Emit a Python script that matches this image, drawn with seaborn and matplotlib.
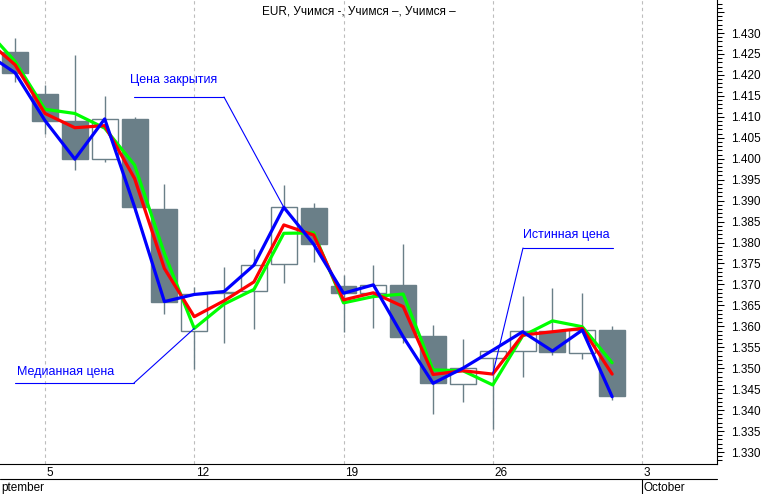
import numpy as np
import matplotlib
matplotlib.use("Agg")
import matplotlib.pyplot as plt
import matplotlib.transforms as mtransforms
from matplotlib.ticker import MultipleLocator, FuncFormatter, FixedLocator
import seaborn as sns

# ---------------- data ----------------
day_labels = ["4", "5", "8", "9", "10", "11", "12", "15", "16", "17", "18",
              "19", "22", "23", "24", "25", "26", "29", "30", "1", "2"]
opens = [1.4254, 1.4154, 1.4090, 1.3999, 1.4095, 1.3879, 1.3589, 1.3679, 1.3685, 1.3748, 1.3882,
         1.3696, 1.3679, 1.3699, 1.3577, 1.3462, 1.3524, 1.3542, 1.3589, 1.3537, 1.3591]
highs = [1.4287, 1.4176, 1.4247, 1.4150, 1.4099, 1.3940, 1.3694, 1.3741, 1.3784, 1.3937, 1.3895,
         1.3722, 1.3746, 1.3796, 1.3603, 1.3570, 1.3541, 1.3672, 1.3691, 1.3680, 1.3601]
lows = [1.4184, 1.4059, 1.3973, 1.3993, 1.3873, 1.3629, 1.3497, 1.3559, 1.3593, 1.3703, 1.3754,
        1.3587, 1.3595, 1.3559, 1.3390, 1.3420, 1.3356, 1.3480, 1.3531, 1.3521, 1.3424]
closes = [1.4205, 1.4091, 1.3999, 1.4095, 1.3885, 1.3659, 1.3676, 1.3683, 1.3746, 1.3884, 1.3796,
          1.3679, 1.3699, 1.3575, 1.3464, 1.3500, 1.3541, 1.3589, 1.3539, 1.3591, 1.3434]

# indicator lines (first value belongs to the previous session, Sept 3)
close_line = [1.4253, 1.4205, 1.4091, 1.3999, 1.4095, 1.3885, 1.3659, 1.3676, 1.3683, 1.3746, 1.3884,
              1.3796, 1.3679, 1.3699, 1.3575, 1.3464, 1.3500, 1.3543, 1.3587, 1.3541, 1.3591, 1.3432]
typical_line = [1.4286, 1.4224, 1.4108, 1.4074, 1.4079, 1.3953, 1.3738, 1.3623, 1.3661, 1.3706, 1.3842,
                1.3818, 1.3663, 1.3680, 1.3647, 1.3485, 1.3494, 1.3486, 1.3579, 1.3587, 1.3595, 1.3486]
median_line = [1.4311, 1.4232, 1.4118, 1.4108, 1.4073, 1.3985, 1.3774, 1.3595, 1.3653, 1.3688, 1.3822,
               1.3823, 1.3656, 1.3671, 1.3677, 1.3496, 1.3494, 1.3460, 1.3577, 1.3613, 1.3599, 1.3513]

axis_days = day_labels + ["3", "6", "7"]
week_labels = ["5", "12", "19", "26", "3"]
month_labels = ["ptember", "October"]
title = "EUR, Учимся -, Учимся –, Учимся –"
note_close = "Цена закрытия"
note_median = "Медианная цена"
note_true = "Истинная цена"
price_label_max = 1.430

# ---------------- style ----------------
sns.set_style("white")
plt.rcParams["font.family"] = ["Liberation Sans", "DejaVu Sans"]

W, H = 766, 494
AX_L, AX_R, AX_T, AX_B = 0, 717, 0, 464
fig = plt.figure(figsize=(W / 100, H / 100), dpi=100)
ax = fig.add_axes([AX_L / W, (H - AX_B) / H, (AX_R - AX_L) / W, (AX_B - AX_T) / H])

candle_col = "#6a7f88"
x = np.arange(len(day_labels))
o = np.array(opens); c = np.array(closes)
up = c >= o
bottom = np.minimum(o, c)
height = np.abs(c - o)

ax.vlines(x, lows, highs, color=candle_col, lw=1.0, zorder=2)
ax.bar(x, height, bottom=bottom, width=0.87,
       color=[("white" if u else candle_col) for u in up],
       edgecolor=candle_col, linewidth=1.0, zorder=3)

lx = np.arange(-1, len(day_labels))
sns.lineplot(x=lx, y=median_line, color="#00ff00", lw=2.3, ax=ax, zorder=4)
sns.lineplot(x=lx, y=typical_line, color="#ff0000", lw=2.3, ax=ax, zorder=5)
sns.lineplot(x=lx, y=close_line, color="#0000ff", lw=2.3, ax=ax, zorder=6)

# ---------------- axes ----------------
px_per_day = 29.85
x_first = 15.15
ax.set_xlim((AX_L - x_first) / px_per_day, (AX_R - x_first) / px_per_day)
ax.set_ylim(1.32714, 1.43788)

week_pos = [axis_days.index(d) for d in week_labels]
minor_pos = [i for i in range(len(axis_days)) if i not in week_pos]
ax.xaxis.set_major_locator(FixedLocator(week_pos))
ax.xaxis.set_minor_locator(FixedLocator(minor_pos))
ax.tick_params(axis="x", which="major", length=15 * 0.72, width=0.75, color="black",
               direction="out", labelbottom=False)
ax.tick_params(axis="x", which="minor", length=5 * 0.72, width=0.75, color="black",
               direction="out")
ax.grid(axis="x", which="major", color="#bdbdbd", linestyle=(0, (3, 3)), lw=0.8)
ax.grid(axis="y", visible=False)

ax.yaxis.tick_right()
ax.yaxis.set_major_locator(MultipleLocator(0.005))
ax.yaxis.set_minor_locator(MultipleLocator(0.001))
ax.yaxis.set_major_formatter(FuncFormatter(
    lambda v, pos: f"{v:.3f}" if v <= price_label_max + 1e-9 else ""))
ax.tick_params(axis="y", which="major", length=5.2, width=0.75, color="black",
               direction="out", pad=5, labelsize=8.5, labelcolor="black")
ax.tick_params(axis="y", which="minor", length=3.4, width=0.75, color="black", direction="out")

for s in ["top", "left"]:
    ax.spines[s].set_visible(False)
for s in ["right", "bottom"]:
    ax.spines[s].set_visible(True)
    ax.spines[s].set_color("black")
    ax.spines[s].set_linewidth(0.8)

# date row
ax_h = AX_B - AX_T
trans = mtransforms.blended_transform_factory(ax.transData, ax.transAxes)
off = mtransforms.offset_copy(trans, fig=fig, x=1.5, y=0, units="dots")
for lab, p in zip(week_labels, week_pos):
    ax.text(p, -8.5 / ax_h, lab, transform=off, ha="left", va="center",
            fontsize=8.5, color="black", clip_on=False)
ax.plot([0, 1], [-15 / ax_h, -15 / ax_h], transform=ax.transAxes, color="black",
        lw=0.8, clip_on=False)
ax.plot([week_pos[-1], week_pos[-1]], [-15 / ax_h, -30 / ax_h], transform=trans,
        color="black", lw=0.8, clip_on=False)
ax.text(1 / (AX_R - AX_L), -23.5 / ax_h, month_labels[0], transform=ax.transAxes,
        ha="left", va="center", fontsize=8.5, color="black", clip_on=False)
ax.text(week_pos[-1], -23.5 / ax_h, month_labels[1], transform=off, ha="left",
        va="center", fontsize=8.5, color="black", clip_on=False)

# title
fig.text(359 / W, 1 - 11 / H, title, ha="center", va="center", fontsize=8.5, color="black")

# annotations
def fx(px):
    return (px - AX_L) / (AX_R - AX_L)

def fy(py):
    return 1 - (py - AX_T) / ax_h

def note(text, tx, ty, hx0, hx1, hy, elbow_x, target):
    ax.text(fx(tx), fy(ty), text, transform=ax.transAxes, ha="left", va="center",
            fontsize=9, color="#0000ff", zorder=7)
    ax.plot([fx(hx0), fx(hx1)], [fy(hy), fy(hy)], transform=ax.transAxes,
            color="#0000ff", lw=0.8, zorder=7)
    ax.annotate("", xy=target, xycoords="data", xytext=(fx(elbow_x), fy(hy)),
                textcoords="axes fraction",
                arrowprops=dict(arrowstyle="-", color="#0000ff", lw=0.8,
                                shrinkA=0, shrinkB=0), zorder=7)

note(note_close, 130, 80, 134, 224, 97, 224, (9, close_line[10]))
note(note_median, 17, 372, 15, 134, 383, 134, (6, median_line[7]))
note(note_true, 523, 235, 523, 613, 248, 523, (16, typical_line[17]))

fig.savefig("out.png", dpi=100)
